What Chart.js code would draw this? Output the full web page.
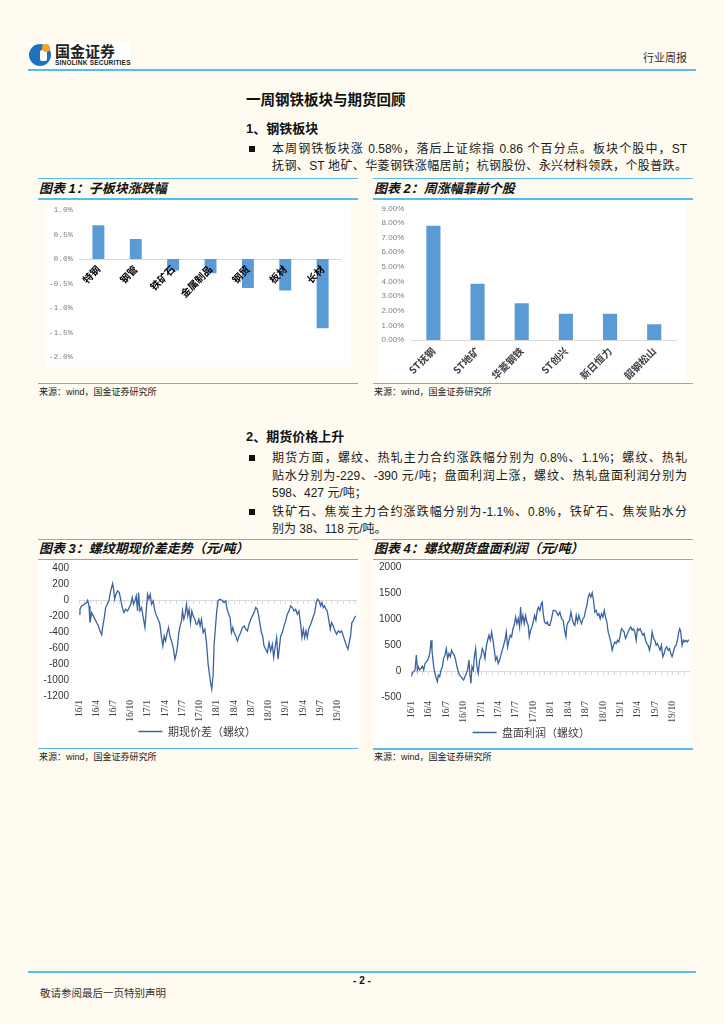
<!DOCTYPE html>
<html lang="zh-CN">
<head>
<meta charset="utf-8">
<title>行业周报</title>
<script src="https://cdn.jsdelivr.net/npm/chart.js@4.4.1/dist/chart.umd.min.js"></script>
<style>
  html, body { margin: 0; padding: 0; }
  body { width: 724px; height: 1024px; position: relative; overflow: hidden; background: #fffbf0;
         font-family: "Liberation Sans", "Noto Sans CJK SC", sans-serif; color: #111; }
  .a { position: absolute; white-space: nowrap; }
  .rule { position: absolute; background: #55bde9; }
  .h1 { font-size: 14.5px; font-weight: bold; line-height: 18px; }
  .h2 { font-size: 13px; font-weight: bold; line-height: 18px; }
  .txt { font-size: 12px; line-height: 16px; width: 415px; text-align: justify; text-align-last: justify; color: #1a1a1a; }
  .txt.end { text-align-last: left; }
  .bul { position: absolute; width: 6px; height: 6px; background: #111; }
  .cap { font-size: 13px; font-weight: bold; font-style: italic; line-height: 16px; }
  .src { font-size: 9px; line-height: 12px; color: #222; }
  .box { position: absolute; background: #fff; }
  .box canvas { position: absolute; left: 0; top: 0; }
</style>
</head>
<body>

<!-- 页眉 -->
<div class="a" style="left:28px;top:42px;width:102px;height:27px;background:#fff"></div>
<div class="a" style="left:29px;top:44px;width:22px;height:22px;border-radius:50%;background:#1f73bd"></div>
<div class="a" style="left:40px;top:50px;width:7px;height:11px;border-radius:2px;background:#fff"></div>
<div class="a" style="left:42px;top:44px;width:8px;height:8px;border-radius:50%;background:#f5a623"></div>
<div class="a" style="left:55px;top:42px;font:bold 15px 'Noto Sans CJK SC';line-height:17px;color:#222">国金证券</div>
<div class="a" style="left:55px;top:59px;font:bold 6.5px 'Liberation Sans';line-height:7px;letter-spacing:0.2px;color:#222">SINOLINK SECURITIES</div>
<div class="a" style="right:37px;top:51px;font-size:11px;line-height:14px;color:#333">行业周报</div>
<div class="rule" style="left:28px;top:69px;width:668px;height:2px"></div>

<!-- 一、钢铁板块 -->
<div class="a h1" style="left:246px;top:91px">一周钢铁板块与期货回顾</div>
<div class="a h2" style="left:246px;top:120px">1、钢铁板块</div>
<div class="bul" style="left:249px;top:146px"></div>
<div class="a txt" style="left:272px;top:141px">本周钢铁板块涨 0.58%，落后上证综指 0.86 个百分点。板块个股中，ST</div>
<div class="a txt" style="left:272px;top:158px">抚钢、ST 地矿、华菱钢铁涨幅居前；杭钢股份、永兴材料领跌，个股普跌。</div>

<!-- 图表1 -->
<div class="rule" style="left:38px;top:177.5px;width:320px;height:1.5px"></div>
<div class="a cap" style="left:39px;top:180.5px">图表 1：子板块涨跌幅</div>
<div class="rule" style="left:38px;top:198px;width:320px;height:1.5px"></div>
<div class="box" style="left:45px;top:200px;width:306px;height:167px"><canvas id="c1" width="306" height="167"></canvas></div>
<div class="rule" style="left:38px;top:382.5px;width:320px;height:1.5px"></div>
<div class="a src" style="left:39px;top:386px">来源：wind，国金证券研究所</div>

<!-- 图表2 -->
<div class="rule" style="left:373px;top:177.5px;width:320px;height:1.5px"></div>
<div class="a cap" style="left:374px;top:180.5px">图表 2：周涨幅靠前个股</div>
<div class="rule" style="left:373px;top:198px;width:320px;height:1.5px"></div>
<div class="box" style="left:378px;top:200px;width:307px;height:182px"><canvas id="c2" width="307" height="182"></canvas></div>
<div class="rule" style="left:373px;top:382.5px;width:320px;height:1.5px"></div>
<div class="a src" style="left:374px;top:386px">来源：wind，国金证券研究所</div>

<!-- 二、期货 -->
<div class="a h2" style="left:246px;top:428px">2、期货价格上升</div>
<div class="bul" style="left:249px;top:455px"></div>
<div class="a txt" style="left:272px;top:450px">期货方面，螺纹、热轧主力合约涨跌幅分别为 0.8%、1.1%；螺纹、热轧</div>
<div class="a txt" style="left:272px;top:468px">贴水分别为-229、-390 元/吨；盘面利润上涨，螺纹、热轧盘面利润分别为</div>
<div class="a txt end" style="left:272px;top:485px">598、427 元/吨；</div>
<div class="bul" style="left:249px;top:509px"></div>
<div class="a txt" style="left:272px;top:504px">铁矿石、焦炭主力合约涨跌幅分别为-1.1%、0.8%，铁矿石、焦炭贴水分</div>
<div class="a txt end" style="left:272px;top:521px">别为 38、118 元/吨。</div>

<!-- 图表3 -->
<div class="rule" style="left:38px;top:538.5px;width:320px;height:1.5px"></div>
<div class="a cap" style="left:39px;top:541px">图表 3：螺纹期现价差走势（元/吨）</div>
<div class="rule" style="left:38px;top:558.5px;width:320px;height:1.5px"></div>
<div class="box" style="left:38px;top:560px;width:322px;height:187px"><canvas id="c3" width="322" height="187"></canvas></div>
<div class="rule" style="left:38px;top:747.5px;width:320px;height:1.5px"></div>
<div class="a src" style="left:39px;top:751px">来源：wind，国金证券研究所</div>

<!-- 图表4 -->
<div class="rule" style="left:373px;top:538.5px;width:320px;height:1.5px"></div>
<div class="a cap" style="left:374px;top:541px">图表 4：螺纹期货盘面利润（元/吨）</div>
<div class="rule" style="left:373px;top:558.5px;width:320px;height:1.5px"></div>
<div class="box" style="left:373px;top:560px;width:318px;height:188px"><canvas id="c4" width="318" height="188"></canvas></div>
<div class="rule" style="left:373px;top:748px;width:320px;height:1.5px"></div>
<div class="a src" style="left:374px;top:751px">来源：wind，国金证券研究所</div>

<!-- 页脚 -->
<div class="rule" style="left:28px;top:970.5px;width:668px;height:2px"></div>
<div class="a" style="left:342px;width:40px;text-align:center;top:974px;font:bold 10px 'Liberation Sans';line-height:14px">- 2 -</div>
<div class="a" style="left:40px;top:986px;font-size:10.5px;line-height:14px;color:#333">敬请参阅最后一页特别声明</div>

<script>
// 图表1 子板块涨跌幅（%）
const sectorNames = ['特钢', '钢管', '铁矿石', '金属制品', '钢贸', '板材', '长材'];
const sectorChange = [0.69, 0.41, -0.23, -0.29, -0.59, -0.64, -1.41];

// 图表2 周涨幅靠前个股（%）
const stockNames = ['ST抚钢', 'ST地矿', '华菱钢铁', 'ST创兴', '新日恒力', '韶钢松山'];
const stockChange = [7.81, 3.85, 2.51, 1.80, 1.80, 1.07];

// 图表3/4 横轴：自2016年1月起的月数，季度标签
const quarterLabels = ['16/1', '16/4', '16/7', '16/10', '17/1', '17/4', '17/7', '17/10',
                       '18/1', '18/4', '18/7', '18/10', '19/1', '19/4', '19/7', '19/10'];

// 图表3 期现价差（螺纹），元/吨
const spreadMonth = [0.00,0.17,0.46,0.93,1.33,1.51,1.74,1.91,2.20,2.49,2.78,3.07,3.36,3.65,3.94,4.11,4.40,4.63,4.92,5.21,
  5.44,5.67,5.85,6.02,6.20,6.43,6.72,7.01,7.24,7.53,7.82,8.11,8.45,8.74,9.03,9.26,9.50,9.73,9.96,10.19,
  10.36,10.60,10.89,11.18,11.47,11.70,11.93,12.16,12.39,12.62,12.91,13.20,13.49,13.78,14.07,14.36,14.59,14.82,15.06,15.34,
  15.58,15.81,16.10,16.39,16.68,16.91,17.14,17.37,17.60,17.83,18.01,18.24,18.47,18.70,18.93,19.17,19.40,19.63,19.86,20.15,
  20.38,20.61,20.85,21.08,21.31,21.60,21.89,22.18,22.47,22.70,22.93,23.10,23.34,23.51,23.74,23.97,24.20,
  24.49,24.90,25.25,25.54,25.77,26.06,26.29,26.52,26.75,26.98,27.27,27.56,27.85,28.14,28.43,28.72,29.01,29.30,29.59,29.88,
  30.17,30.46,30.75,31.04,31.27,31.50,31.73,31.96,32.19,32.48,32.77,33.06,33.35,33.64,33.87,34.11,34.39,34.63,34.86,35.09,
  35.38,35.67,35.96,36.25,36.54,36.83,37.12,37.41,37.70,37.99,38.27,38.56,38.80,39.03,39.26,39.49,39.72,39.95,40.18,40.42,
  40.71,41.00,41.29,41.52,41.75,42.04,42.27,42.50,42.73,42.96,43.19,43.49,43.72,43.95,44.24,44.53,44.82,45.11,45.40,45.69,
  45.98,46.26,46.55,46.79,47.02,47.25,47.48,47.71,47.94,48.23];
const spreadValue = [-175,-113,-71,-50,-29,0,-71,-280,-155,-196,-238,-280,-322,-384,-434,-342,-217,-92,-50,-8,
  96,159,209,138,13,75,117,96,13,-92,-155,-113,-134,-92,-50,33,-50,-8,54,-134,
  96,-134,-92,-217,-342,-134,75,13,75,-50,-8,-134,-196,-238,-300,-468,-572,-447,-510,-405,
  -342,-447,-510,-593,-739,-677,-572,-405,-322,-259,-134,-238,-175,-50,-196,-113,-280,-134,-196,-238,
  -300,-300,-238,-322,-238,-405,-363,-530,-802,-927,-1052,-1115,-927,-551,-342,-134,-8,
  13,0,-29,-8,-113,-175,-217,-405,-342,-405,-447,-510,-447,-405,-342,-322,-363,-384,-300,-238,
  -196,-155,-92,-113,-196,-300,-405,-447,-572,-614,-656,-530,-635,-551,-718,-593,-468,-739,-593,-447,
  -405,-322,-259,-175,-134,-71,-92,-134,-113,-175,-134,-300,-468,-363,-468,-384,-468,-363,-322,-280,
  -217,-155,-29,13,-8,-71,-29,-92,-71,-113,-134,-259,-363,-280,-322,-384,-426,-384,-405,-384,
  -447,-510,-572,-614,-530,-447,-280,-259,-217,-196];

// 图表4 盘面利润（螺纹），元/吨
const profitMonth = [0.00,0.18,0.41,0.64,0.87,1.04,1.21,1.44,1.67,1.90,2.13,2.36,2.58,2.81,3.04,3.21,3.39,3.56,3.73,3.90,
  4.07,4.30,4.48,4.65,4.88,5.11,5.34,5.56,5.79,6.02,6.25,6.48,6.71,6.94,7.17,7.40,7.63,7.86,8.09,8.31,
  8.54,8.77,9.00,9.23,9.46,9.69,9.92,10.09,10.26,10.44,10.67,10.84,11.07,11.29,11.52,11.75,11.98,12.21,12.44,12.67,
  12.90,13.13,13.36,13.59,13.82,14.05,14.28,14.50,14.73,14.96,15.19,15.42,15.65,15.88,16.11,16.34,16.57,16.80,17.03,17.26,
  17.49,17.71,17.94,18.17,18.40,18.63,18.80,18.97,19.20,19.43,19.66,19.89,20.12,20.29,20.52,20.75,20.98,21.21,21.44,21.67,
  21.90,22.13,22.36,22.53,22.70,22.93,23.16,23.39,23.62,
  23.85,24.13,24.42,24.70,24.99,25.28,25.56,25.85,26.14,26.42,26.60,26.77,27.00,27.23,27.46,27.68,27.91,28.14,28.37,28.60,
  28.83,29.06,29.29,29.52,29.75,29.98,30.21,30.44,30.66,30.89,31.12,31.35,31.58,31.81,32.04,32.27,32.50,32.73,32.96,33.19,
  33.42,33.65,33.87,34.10,34.33,34.56,34.79,35.02,35.25,35.48,35.71,35.94,36.17,36.40,36.62,36.85,37.08,37.31,37.54,37.77,
  38.00,38.23,38.46,38.69,38.92,39.15,39.37,39.60,39.83,40.06,40.29,40.52,40.75,40.98,41.21,41.44,41.67,41.90,42.13,42.36,
  42.58,42.81,43.04,43.27,43.50,43.73,43.96,44.19,44.42,44.65,44.87,45.10,45.33,45.56,45.79,46.02,46.19,46.36,46.59,46.82,
  47.05,47.28,47.51,47.74];
const profitValue = [-109,-32,-13,19,307,19,83,19,51,96,19,147,179,211,275,370,594,402,211,51,
  -45,-140,-204,-77,-109,19,83,243,307,434,243,338,275,402,338,307,211,83,-13,-77,
  -109,-140,-172,-109,-45,19,211,-77,-236,83,19,275,434,83,-45,211,275,434,370,243,
  466,594,690,594,753,594,402,211,275,147,211,307,402,498,594,753,466,594,690,658,
  817,881,1041,913,1009,849,1232,945,1073,913,1073,945,881,658,785,849,945,1073,977,1169,
  1232,1169,1296,1328,1105,945,913,945,881,
  881,1009,1169,1169,1137,1073,1137,1009,977,753,658,881,945,977,1137,1009,913,881,1073,945,
  1073,977,913,1009,1041,1169,1264,1424,1488,1424,1507,1360,1137,1169,1073,1105,1009,1105,1041,1169,
  1041,945,753,658,562,402,498,562,530,594,562,690,817,785,753,626,690,753,817,849,
  785,817,753,594,817,785,817,753,690,722,594,530,498,402,530,753,626,594,498,530,
  466,402,498,275,338,434,466,402,434,338,275,370,466,498,594,753,817,753,498,594,
  562,594,562,607];

const CJK = '"Noto Sans CJK SC", sans-serif';
const BAR = '#5b9bd5';
const LINE = '#3b63a0';
const AXIS = '#d9d9d9';

// 轴尺寸固定，方便与原图对齐
const fixX = h => s => { s.height = h; s.paddingLeft = 0; s.paddingRight = 0; };
const fixY = w => s => { s.width = w; s.paddingTop = 0; s.paddingBottom = 0; };

const base = {
    responsive: false,
    animation: false,
    events: [],
    plugins: { legend: { display: false }, tooltip: { enabled: false } }
};

new Chart(document.getElementById('c1'), {
    type: 'bar',
    data: {
        labels: sectorNames,
        datasets: [{ data: sectorChange, backgroundColor: BAR, barPercentage: 0.32, categoryPercentage: 1 }]
    },
    options: {
        ...base,
        layout: { padding: { left: 0, right: 9.7, top: 10, bottom: 9.7 } },
        scales: {
            x: {
                position: { y: 0 },
                grid: { display: false, drawTicks: false },
                border: { color: AXIS },
                // z: 1 让类别标签压在柱子上面
                ticks: { z: 1, font: { family: CJK, size: 10, weight: 'bold' }, color: '#000',
                         minRotation: 45, maxRotation: 45, padding: 4, autoSkip: false },
                afterFit: fixX(0)
            },
            y: {
                min: -2, max: 1,
                grid: { display: false, drawTicks: false },
                border: { display: false },
                ticks: { stepSize: 0.5, callback: v => v.toFixed(1) + '%',
                         font: { family: '"Liberation Mono"', size: 8 }, color: '#808080', padding: 7 },
                afterFit: fixY(34.7)
            }
        }
    }
});

new Chart(document.getElementById('c2'), {
    type: 'bar',
    data: {
        labels: stockNames,
        datasets: [{ data: stockChange, backgroundColor: BAR, barPercentage: 0.32, categoryPercentage: 1 }]
    },
    options: {
        ...base,
        layout: { padding: { left: 0, right: 8.7, top: 8.3, bottom: 0 } },
        scales: {
            x: {
                grid: { display: false, drawTicks: false },
                border: { color: AXIS },
                ticks: { font: { family: CJK, size: 10, weight: 'bold' }, color: '#404040',
                         minRotation: 45, maxRotation: 45, padding: 5, autoSkip: false },
                afterFit: fixX(42)
            },
            y: {
                min: 0, max: 9,
                grid: { display: false, drawTicks: false },
                border: { display: false },
                ticks: { stepSize: 1, callback: v => v.toFixed(2) + '%',
                         font: { family: '"Liberation Sans"', size: 8 }, color: '#7f7f7f', padding: 7 },
                afterFit: fixY(33.3)
            }
        }
    }
});

function lineChart(id, label, months, values, xMax, yMin, yMax, yStep, pad, yWidth) {
    return new Chart(document.getElementById(id), {
        type: 'line',
        data: {
            datasets: [{
                label: label,
                data: months.map((m, i) => ({ x: m, y: values[i] })),
                borderColor: LINE, backgroundColor: LINE,
                borderWidth: 1.3, pointRadius: 0, tension: 0
            }]
        },
        options: {
            ...base,
            layout: { padding: pad },
            plugins: {
                tooltip: { enabled: false },
                legend: {
                    position: 'bottom',
                    labels: { usePointStyle: true, pointStyle: 'line', pointStyleWidth: 24,
                              font: { family: CJK, size: 11 }, color: '#404040', padding: 0 }
                }
            },
            scales: {
                x: {
                    type: 'linear', min: 0, max: xMax,
                    grid: { display: false, drawTicks: false },
                    border: { display: false },
                    ticks: { stepSize: 3, includeBounds: false, autoSkip: false,
                             minRotation: 90, maxRotation: 90, padding: 4,
                             font: { family: '"Liberation Serif"', size: 9.5 }, color: '#404040',
                             callback: v => quarterLabels[v / 3] ?? '' },
                    afterFit: fixX(30)
                },
                zero: {
                    type: 'linear', axis: 'x', position: { y: 0 }, min: 0, max: xMax,
                    grid: { drawOnChartArea: false, tickLength: 3, tickColor: AXIS },
                    border: { color: AXIS },
                    ticks: { display: false, stepSize: 1, includeBounds: false, autoSkip: false },
                    afterFit: fixX(0)
                },
                y: {
                    min: yMin, max: yMax,
                    grid: { display: false, drawTicks: false },
                    border: { display: false },
                    ticks: { stepSize: yStep, font: { family: '"Liberation Sans"', size: 10 },
                             color: '#333', padding: 10, callback: v => String(v) },
                    afterFit: fixY(yWidth)
                }
            }
        }
    });
}

lineChart('c3', '期现价差（螺纹）', spreadMonth, spreadValue, 48.25, -1200, 400, 200,
          { left: 0, right: 3.7, top: 8.3, bottom: 0 }, 41);
lineChart('c4', '盘面利润（螺纹）', profitMonth, profitValue, 47.9, -500, 2000, 500,
          { left: 0, right: 1.3, top: 7.3, bottom: 0 }, 38.3);
</script>
</body>
</html>
